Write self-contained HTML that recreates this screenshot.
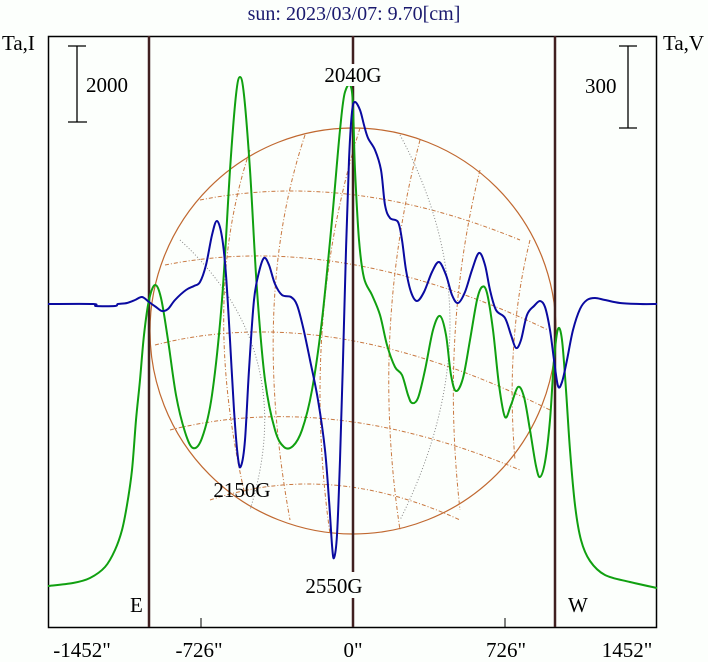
<!DOCTYPE html>
<html><head><style>
html,body{margin:0;padding:0;background:#fff;}
svg{display:block;font-family:"Liberation Serif",serif;}
</style></head><body>
<svg width="708" height="662" viewBox="0 0 708 662">
<rect width="708" height="662" fill="#fcfffc"/>
<text x="354" y="20" font-size="20" fill="#1a1a6e" text-anchor="middle">sun: 2023/03/07: 9.70[cm]</text>
<text x="2" y="50" font-size="21" fill="#000">Ta,I</text>
<text x="663" y="50" font-size="21" fill="#000">Ta,V</text>
<rect x="48.5" y="36.5" width="608" height="591" fill="none" stroke="#000" stroke-width="1.5"/>
<g stroke="#000" stroke-width="1.3">
<line x1="77" y1="46" x2="77" y2="122"/><line x1="68" y1="46" x2="86" y2="46"/><line x1="68" y1="122" x2="87" y2="122"/>
<line x1="628" y1="46" x2="628" y2="128"/><line x1="619" y1="46" x2="637" y2="46"/><line x1="619" y1="128" x2="637" y2="128"/>
</g>
<text x="86" y="92" font-size="21">2000</text>
<text x="585" y="93" font-size="21">300</text>
<circle cx="353" cy="331" r="203" fill="none" stroke="#c06830" stroke-width="1.2"/>
<g fill="none" stroke="#c87840" stroke-width="1" stroke-dasharray="4,2,1,2">
<path d="M200,200 Q350,170 520,240"/>
<path d="M165,265 Q340,230 548,330"/>
<path d="M155,345 Q330,300 550,410"/>
<path d="M170,430 Q330,390 520,470"/>
<path d="M210,500 Q330,460 460,520"/>
<path d="M250,150 Q200,300 245,495"/>
<path d="M305,135 Q250,300 290,520"/>
<path d="M360,128 Q300,320 330,534"/>
<path d="M420,140 Q370,330 400,530"/>
<path d="M480,170 Q440,330 460,510"/>
<path d="M530,240 Q505,340 515,460"/>
</g>
<g fill="none" stroke="#888" stroke-width="1" stroke-dasharray="1,2">
<path d="M400,135 Q500,320 400,520"/>
<path d="M180,240 Q300,350 250,510"/>
</g>
<g stroke="#402020" stroke-width="2.5">
<line x1="149" y1="36" x2="149" y2="627"/>
<line x1="353" y1="36" x2="353" y2="627"/>
<line x1="555" y1="36" x2="555" y2="627"/>
</g>
<g stroke="#000" stroke-width="1"><line x1="201" y1="618" x2="201" y2="627"/><line x1="505" y1="618" x2="505" y2="627"/></g>
<path id="g" fill="none" stroke="#10a010" stroke-width="2"/>
<path id="b" fill="none" stroke="#0a0aa0" stroke-width="2"/>
<rect x="322" y="64" width="62" height="22" fill="#fcfffc"/>
<text x="353" y="82" font-size="21" text-anchor="middle">2040G</text>
<text x="242" y="497" font-size="21" text-anchor="middle">2150G</text>
<rect x="300" y="572" width="68" height="26" fill="#fcfffc"/>
<text x="334" y="593" font-size="21" text-anchor="middle">2550G</text>
<text x="130" y="612" font-size="21">E</text>
<text x="568" y="612" font-size="21">W</text>
<g font-size="21" text-anchor="middle">
<text x="82" y="657">-1452"</text>
<text x="199" y="657">-726"</text>
<text x="353" y="657">0"</text>
<text x="506" y="657">726"</text>
<text x="627" y="657">1452"</text>
</g>
</svg>
<script>
function sm(p){var d="M"+p[0][0]+","+p[0][1];for(var i=0;i<p.length-1;i++){var a=p[i-1]||p[i],b=p[i],c=p[i+1],e=p[i+2]||c;
d+=" C"+(b[0]+(c[0]-a[0])/6).toFixed(1)+","+(b[1]+(c[1]-a[1])/6).toFixed(1)+" "+(c[0]-(e[0]-b[0])/6).toFixed(1)+","+(c[1]-(e[1]-b[1])/6).toFixed(1)+" "+c[0]+","+c[1];}return d;}
var G=[[48,586],[73,583],[90,578],[105,567],[115,550],[122,530],[127,505],[132,470],[136,420],[140,380],[144,335],[149,300],[155,285],[161,298],[168,340],[176,395],[185,432],[193,448],[202,438],[212,395],[222,300],[230,170],[236,95],[240,77],[244,95],[250,170],[257,290],[265,380],[275,430],[284,447],[293,446],[302,430],[312,390],[322,320],[332,220],[340,130],[345,92],[352,92],[355,170],[359,240],[364,278],[372,295],[380,315],[387,345],[395,367],[402,375],[408,395],[412,403],[418,398],[425,370],[433,330],[440,316],[446,335],[451,375],[456,391],[463,378],[470,340],[477,300],[482,287],[487,293],[493,330],[499,385],[505,417],[511,405],[518,387],[524,397],[530,430],[536,466],[540,477],[545,462],[550,420],[554,360],[558,329],[562,340],[566,390],[570,450],[575,505],[581,540],[590,561],[605,575],[630,582],[657,588]];
var B=[[48,304],[93,304],[96,306],[115,306],[118,304],[127,303],[135,300],[142,297],[149,302],[156,307],[162,311],[168,309],[175,300],[186,290],[194,286],[200,282],[206,265],[212,235],[217,221],[222,237],[226,275],[230,340],[234,410],[238,458],[241,466],[245,440],[249,370],[254,300],[259,272],[264,258],[269,265],[275,284],[282,295],[291,297],[297,305],[303,327],[310,360],[318,400],[325,450],[329,500],[332,545],[334,558],[337,535],[340,460],[343,360],[346,250],[349,160],[352,112],[355,102],[360,110],[364,125],[368,138],[375,150],[381,170],[385,205],[390,218],[398,222],[402,240],[406,270],[411,292],[417,301],[424,292],[432,272],[439,262],[446,275],[452,295],[458,303],[465,292],[472,270],[479,253],[485,265],[490,290],[496,310],[505,318],[511,335],[516,348],[521,340],[527,315],[534,306],[540,301],[545,307],[550,330],[554,360],[558,386],[562,382],[567,360],[573,330],[580,309],[587,300],[595,298],[605,300],[620,303],[640,304],[657,304]];
document.getElementById("g").setAttribute("d",sm(G));
document.getElementById("b").setAttribute("d",sm(B));
</script>
</body></html>
